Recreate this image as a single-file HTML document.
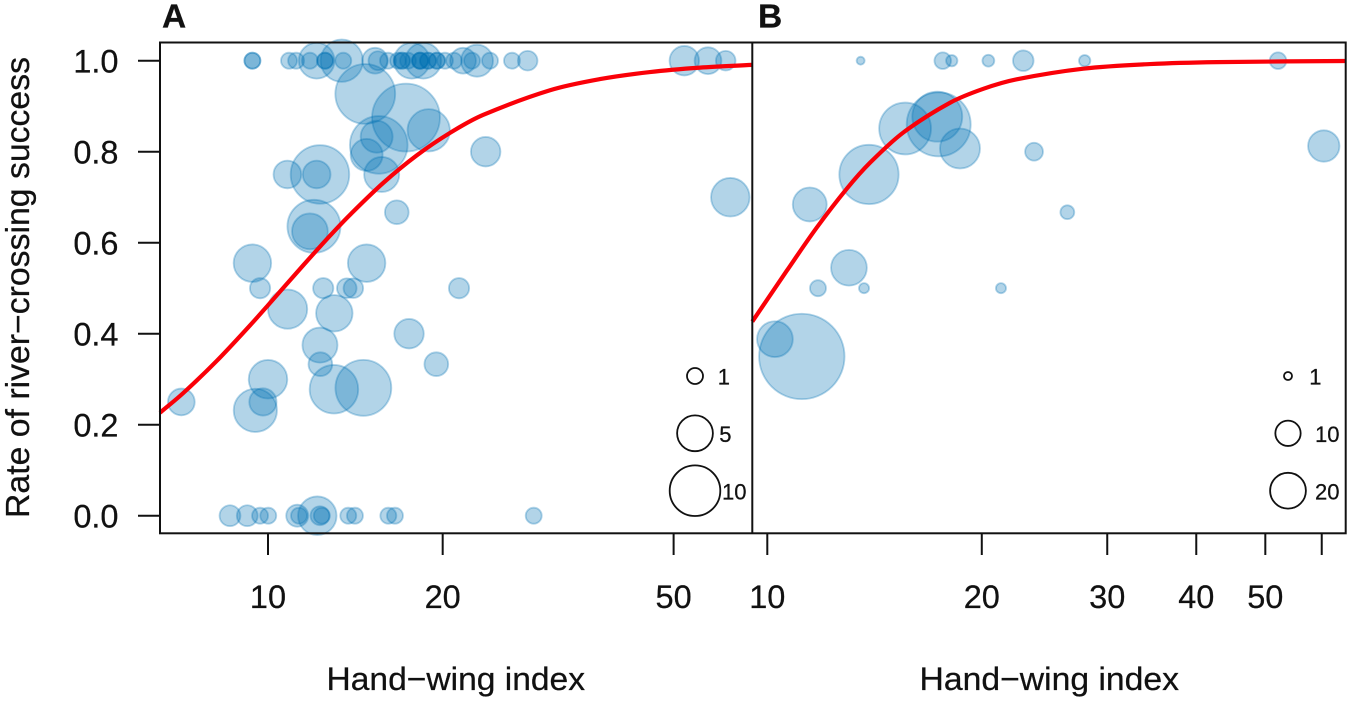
<!DOCTYPE html>
<html lang="en">
<head>
<meta charset="utf-8">
<title>Rate of river-crossing success vs hand-wing index</title>
<style>
  html, body { margin: 0; padding: 0; background: #fff; }
  svg { display: block; }
  text { font-family: "Liberation Sans", Arial, sans-serif; fill: #111; stroke: #111; stroke-width: 0.25; }
</style>
</head>
<body>
<svg id="chart" xmlns="http://www.w3.org/2000/svg" width="1350" height="701" viewBox="0 0 1350 701">
  <rect x="0" y="0" width="1350" height="701" fill="#fff"/>
  <g id="points-a"></g>
  <g id="points-b"></g>
  <path id="curve-a" fill="none" stroke="#fa0008" stroke-width="4.2"/>
  <path id="curve-b" fill="none" stroke="#fa0008" stroke-width="4.2"/>
  <rect x="160" y="42.5" width="1185.7" height="490.8" fill="none" stroke="#111" stroke-width="2"/>
  <line x1="752.3" y1="42.5" x2="752.3" y2="533.3" stroke="#111" stroke-width="2"/>
  <g id="axes"></g>
  <text x="162" y="27.5" font-size="33.5" font-weight="bold">A</text>
  <text x="758" y="27.5" font-size="33.5" font-weight="bold">B</text>
  <text transform="translate(29 518) rotate(-90)" font-size="33" textLength="461" lengthAdjust="spacingAndGlyphs">Rate of river−crossing success</text>
  <text x="326.5" y="690" font-size="32.5" textLength="258.5" lengthAdjust="spacingAndGlyphs">Hand−wing index</text>
  <text x="919.5" y="690" font-size="32.5" textLength="259.5" lengthAdjust="spacingAndGlyphs">Hand−wing index</text>
  <g id="legends"></g>
</svg>
<script>
// Y axis
const yTicks = [0, 0.2, 0.4, 0.6, 0.8, 1];
const yTickLabels = ["0.0", "0.2", "0.4", "0.6", "0.8", "1.0"];

// Panel A x axis
const aXTicks = [10, 20, 50];
const aXTickLabels = ["10", "20", "50"];

// Panel B x axis
const bXTicks = [10, 20, 30, 40, 50, 60];
const bXTickLabels = ["10", "20", "30", "40", "50", ""];

// Panel A points: hand-wing index, crossing rate, sample size
const aHwi = [
  9.40, 9.40, 10.87, 11.18, 11.81, 12.13, 12.54, 12.54, 13.40, 13.48, 15.29, 15.47, 16.10, 16.75, 17.02, 17.43,
  17.69, 18.52, 18.28, 18.28, 18.87, 19.55, 20.18, 20.92, 21.68, 22.47, 22.92, 24.13, 26.33, 28.02, 52.17, 57.31, 61.48,
  14.71, 17.29, 18.92, 15.52, 15.39, 14.79, 15.70, 23.72, 12.29, 12.13, 10.80, 12.00, 11.81, 16.67, 9.40, 14.79, 62.62,
  9.69, 10.81, 12.45, 13.67, 14.03, 13.01, 12.29, 12.31, 12.99, 14.60, 17.50, 19.50, 21.34, 10.00, 9.51, 9.80, 7.09,
  8.60, 9.21, 9.69, 10.01, 11.23, 11.31, 12.16, 12.29, 12.38, 13.75, 14.12, 16.12, 16.55, 28.70,
  17.02, 18.28, 18.87, 19.55
];
const aRate = [
  1, 1, 1, 1, 1, 1, 1, 1, 1, 1, 1, 1, 1, 1, 1, 1,
  1, 1, 1, 1, 1, 1, 1, 1, 1, 1, 1, 1, 1, 1, 1, 1, 1,
  0.927, 0.875, 0.847, 0.815, 0.833, 0.793, 0.75, 0.8, 0.75, 0.75, 0.75, 0.636, 0.625, 0.667, 0.555, 0.555, 0.7,
  0.5, 0.454, 0.5, 0.5, 0.5, 0.445, 0.375, 0.333, 0.278, 0.281, 0.4, 0.333, 0.5, 0.3, 0.2315, 0.25, 0.25,
  0, 0, 0, 0, 0, 0, 0, 0, 0, 0, 0, 0, 0, 0,
  1, 1, 1, 1
];
const aSize = [
  1, 1, 1, 1, 1, 5, 1, 1, 7, 1, 2.6, 1.4, 1, 1, 1, 1,
  5, 5, 1, 1, 1, 1, 1, 1, 2.6, 1, 4, 1, 1, 1.5, 3.4, 2.8, 1.5,
  14, 18, 7, 13, 4, 4, 4.8, 3.4, 13.4, 3, 3, 11, 5, 2.2, 5.5, 5.5, 5.8,
  1.6, 6, 1.6, 1.5, 1.5, 5.2, 4.8, 2.2, 9.2, 12.2, 3.4, 2.2, 1.6, 5.8, 7.3, 2.9, 2.8,
  1.7, 1.7, 1, 1, 1.9, 1, 5.8, 1.4, 1, 1, 1, 1, 1, 1,
  1, 1, 1, 1
];

// Panel B points: hand-wing index, crossing rate, sample size
const bHwi = [13.52, 17.63, 18.15, 20.43, 22.87, 27.89, 52.10, 60.40, 23.68, 26.37, 18.64, 15.61, 17.40, 17.32, 13.89, 11.47, 13.02, 11.78, 13.67, 21.28, 11.18, 10.25];
const bRate = [1, 1, 1, 1, 1, 1, 1, 0.8125, 0.8, 0.667, 0.807, 0.851, 0.86, 0.877, 0.75, 0.684, 0.545, 0.5, 0.5, 0.5, 0.35, 0.388];
const bSize = [1, 4.3, 2, 2.2, 6.6, 2, 4.3, 15.4, 5, 3, 25, 42, 64, 39, 55, 18, 20, 4, 1.6, 1.6, 114, 20];

// Fitted curves
const aCurveHwi = [6.515, 7.146, 8.158, 9.31, 10, 11.5, 12.79, 13.85, 15.8, 18.04, 20.59, 23.47, 30.62, 37.33, 45.53, 55.52, 68.15];
const aCurveRate = [0.2263, 0.2697, 0.3401, 0.4182, 0.4626, 0.5503, 0.6154, 0.6615, 0.7315, 0.7918, 0.8414, 0.8807, 0.9351, 0.9596, 0.9751, 0.9848, 0.9908];
const bCurveHwi = [9.527, 10.65, 11.73, 12.93, 13.94, 15.52, 18.05, 20.1, 22.39, 27.77, 34.45, 42.74, 64.85];
const bCurveRate = [0.4268, 0.5384, 0.633, 0.7187, 0.7759, 0.8422, 0.9076, 0.9382, 0.9591, 0.9825, 0.9926, 0.9969, 0.9994];

// Size legends
const aLegendSizes = [1, 5, 10];
const aLegendLabels = ["1", "5", "10"];
const bLegendSizes = [1, 10, 20];
const bLegendLabels = ["1", "10", "20"];

const SVG_NS = "http://www.w3.org/2000/svg";
const yScale = v => 515.7 - 455 * v;
const aX = h => 268 + 580.3 * Math.log10(h / 10);
const bX = h => 767.3 + 712.5 * Math.log10(h / 10);
const aRadius = n => 8 * Math.sqrt(n);
const bRadius = n => 4 * Math.sqrt(n);

function make(tag, attrs, parent) {
  const el = document.createElementNS(SVG_NS, tag);
  for (const k in attrs) el.setAttribute(k, attrs[k]);
  parent.appendChild(el);
  return el;
}

function drawPoints(groupId, hwi, rate, size, xFn, rFn) {
  const g = document.getElementById(groupId);
  hwi.forEach((h, i) => {
    const c = make("circle", {
      cx: xFn(h).toFixed(2),
      cy: yScale(rate[i]).toFixed(2),
      r: rFn(size[i]).toFixed(2),
      fill: "#0072b2",
      "fill-opacity": 0.3,
      stroke: "#0072b2",
      "stroke-opacity": 0.3,
      "stroke-width": 1.8
    }, g);
    
    
  });
}

function curvePath(hwi, rate, xFn) {
  const p = hwi.map((h, i) => [xFn(h), yScale(rate[i])]);
  const n = p.length;
  const slope = p.map((pt, i) => {
    const a = p[Math.max(i - 1, 0)], b = p[Math.min(i + 1, n - 1)];
    return (b[1] - a[1]) / (b[0] - a[0]);
  });
  let d = "M" + p[0][0].toFixed(2) + " " + p[0][1].toFixed(2);
  for (let i = 0; i < n - 1; i++) {
    const dx = (p[i + 1][0] - p[i][0]) / 3;
    d += "C" + (p[i][0] + dx).toFixed(2) + " " + (p[i][1] + slope[i] * dx).toFixed(2) + " " +
         (p[i + 1][0] - dx).toFixed(2) + " " + (p[i + 1][1] - slope[i + 1] * dx).toFixed(2) + " " +
         p[i + 1][0].toFixed(2) + " " + p[i + 1][1].toFixed(2);
  }
  return d;
}

function drawXAxis(ticks, labels, xFn) {
  const g = document.getElementById("axes");
  ticks.forEach((t, i) => {
    const x = xFn(t);
    const tick = make("line", { x1: x, x2: x, y1: 533.3, y2: 555, stroke: "#111", "stroke-width": 2 }, g);
    
    
    if (labels[i]) {
      const label = make("text", { x: x, y: 608, "font-size": 32.5, "text-anchor": "middle" }, g);
      label.textContent = labels[i];
      
      
    }
  });
}

function drawYAxis() {
  const g = document.getElementById("axes");
  yTicks.forEach((t, i) => {
    const y = yScale(t);
    const tick = make("line", { x1: 138, x2: 160, y1: y, y2: y, stroke: "#111", "stroke-width": 2 }, g);
    
    
    const label = make("text", { x: 118.5, y: y + 12, "font-size": 32.5, "text-anchor": "end" }, g);
    label.textContent = yTickLabels[i];
    
    
  });
}

function drawLegend(sizes, labels, cx, rFn, labelRight) {
  const g = document.getElementById("legends");
  const ys = [376, 433.3, 490.7];
  sizes.forEach((n, i) => {
    const c = make("circle", { cx: cx, cy: ys[i], r: rFn(n).toFixed(2), fill: "none", stroke: "#111", "stroke-width": 1.8 }, g);
    
    
    const t = make("text", { x: labelRight[i], y: ys[i] + 8.6, "font-size": 22, "text-anchor": "end" }, g);
    t.textContent = labels[i];
    
    
  });
}

drawPoints("points-a", aHwi, aRate, aSize, aX, aRadius);
drawPoints("points-b", bHwi, bRate, bSize, bX, bRadius);
document.getElementById("curve-a").setAttribute("d", curvePath(aCurveHwi, aCurveRate, aX));
document.getElementById("curve-b").setAttribute("d", curvePath(bCurveHwi, bCurveRate, bX));
drawYAxis();
drawXAxis(aXTicks, aXTickLabels, aX);
drawXAxis(bXTicks, bXTickLabels, bX);
drawLegend(aLegendSizes, aLegendLabels, 695, aRadius, [730, 731.5, 746.5]);
drawLegend(bLegendSizes, bLegendLabels, 1288, bRadius, [1321.5, 1339.5, 1339.5]);
</script>
</body>
</html>
